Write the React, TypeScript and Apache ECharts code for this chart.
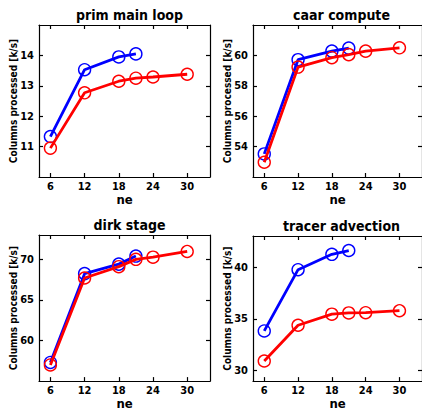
import React, { useEffect, useRef } from "react";
import * as echarts from "echarts";

const titles = ["prim main loop", "caar compute", "dirk stage", "tracer advection"];
const neBlue = [6, 12, 18, 21];
const neRed = [6, 12, 18, 21, 24, 30];
const xTicks = [6, 12, 18, 24, 30];

const blue1 = [11.33, 13.53, 13.95, 14.05];
const red1 = [10.95, 12.77, 13.15, 13.25, 13.29, 13.38];
const blue2 = [53.52, 59.72, 60.28, 60.48];
const red2 = [52.97, 59.23, 59.85, 60.05, 60.28, 60.5];
const blue3 = [57.3, 68.24, 69.41, 70.4];
const red3 = [56.99, 67.7, 69.1, 70.0, 70.27, 70.97];
const blue4 = [33.84, 39.75, 41.23, 41.6];
const red4 = [30.94, 34.39, 35.46, 35.58, 35.6, 35.79];

const yRanges = [
  [10, 15],
  [52, 62],
  [55, 73],
  [29, 43],
];
const yTicks = [
  [11, 12, 13, 14],
  [54, 56, 58, 60],
  [60, 65, 70],
  [30, 35, 40],
];
const blues = [blue1, blue2, blue3, blue4];
const reds = [red1, red2, red3, red4];

const FONT = "'DejaVu Sans Condensed', 'Liberation Sans Narrow', 'DejaVu Sans', sans-serif";

export default function App() {
  const ref = useRef<HTMLDivElement>(null);
  useEffect(() => {
    if (!ref.current) return;
    const chart = echarts.init(ref.current, undefined, { renderer: "svg" });
    const grids = [
      { left: 39, top: 25, width: 171, height: 152 },
      { left: 253, top: 25, width: 171, height: 152 },
      { left: 39, top: 235, width: 171, height: 153 },
      { left: 253, top: 236, width: 171, height: 152 },
    ];
    const xAxis: any[] = [];
    const yAxis: any[] = [];
    const series: any[] = [];
    const title: any[] = [];
    grids.forEach((g, i) => {
      const lineStyle = { color: "#000", width: 1.2 };
      title.push({
        text: titles[i],
        left: g.left + g.width / 2 - (i % 2 === 1 ? 2 : 0),
        top: g.top - 22,
        textAlign: "center",
        textStyle: { fontFamily: FONT, fontWeight: "bold", fontSize: 14, color: "#000" },
      });
      xAxis.push({
        gridIndex: i,
        type: "value",
        min: 4,
        max: 34,
        position: "bottom",
        name: "ne",
        nameLocation: "middle",
        nameGap: 15,
        nameTextStyle: { fontFamily: FONT, fontWeight: "bold", fontSize: 13, color: "#000" },
        axisLine: { show: true, lineStyle, onZero: false },
        axisTick: { show: true, inside: true, length: 4, customValues: xTicks, lineStyle },
        axisLabel: {
          customValues: xTicks,
          margin: 4,
          fontFamily: FONT,
          fontWeight: "bold",
          fontSize: 11,
          color: "#000",
        },
        splitLine: { show: false },
      });
      xAxis.push({
        gridIndex: i,
        type: "value",
        min: 4,
        max: 34,
        position: "top",
        axisLine: { show: true, lineStyle, onZero: false },
        axisTick: { show: true, inside: true, length: 4, customValues: xTicks, lineStyle },
        axisLabel: { show: false },
        splitLine: { show: false },
      });
      yAxis.push({
        gridIndex: i,
        type: "value",
        min: yRanges[i][0],
        max: yRanges[i][1],
        position: "left",
        name: "Columns processed [k/s]",
        nameLocation: "middle",
        nameGap: 21,
        nameMoveOverlap: false,
        nameRotate: 90,
        nameTextStyle: { fontFamily: FONT, fontWeight: "bold", fontSize: 10, color: "#000" },
        axisLine: { show: true, lineStyle, onZero: false },
        axisTick: { show: true, inside: true, length: 4, customValues: yTicks[i], lineStyle },
        axisLabel: {
          customValues: yTicks[i],
          margin: 5,
          fontFamily: FONT,
          fontWeight: "bold",
          fontSize: 11,
          color: "#000",
        },
        splitLine: { show: false },
      });
      yAxis.push({
        gridIndex: i,
        type: "value",
        min: yRanges[i][0],
        max: yRanges[i][1],
        position: "right",
        axisLine: { show: true, lineStyle, onZero: false },
        axisTick: { show: true, inside: true, length: 4, customValues: yTicks[i], lineStyle },
        axisLabel: { show: false },
        splitLine: { show: false },
      });
      const mk = (xs: number[], ys: number[], color: string) => ({
        type: "line",
        xAxisIndex: i * 2,
        yAxisIndex: i * 2,
        data: xs.map((x, k) => [x, ys[k]]),
        symbol: "circle",
        symbolSize: 12,
        lineStyle: { color, width: 2.8 },
        itemStyle: { color: "rgba(0,0,0,0)", borderColor: color, borderWidth: 1.4 },
        z: color === "#ff0000" ? 3 : 2,
      });
      series.push(mk(neBlue, blues[i], "#0000ff"));
      series.push(mk(neRed, reds[i], "#ff0000"));
    });
    chart.setOption({
      animation: false,
      backgroundColor: "#fff",
      title,
      grid: grids,
      xAxis,
      yAxis,
      series,
    });
    return () => chart.dispose();
  }, []);
  return (
    <div
      ref={ref}
      style={{ position: "fixed", left: 0, top: 0, width: 422, height: 411 }}
    />
  );
}
